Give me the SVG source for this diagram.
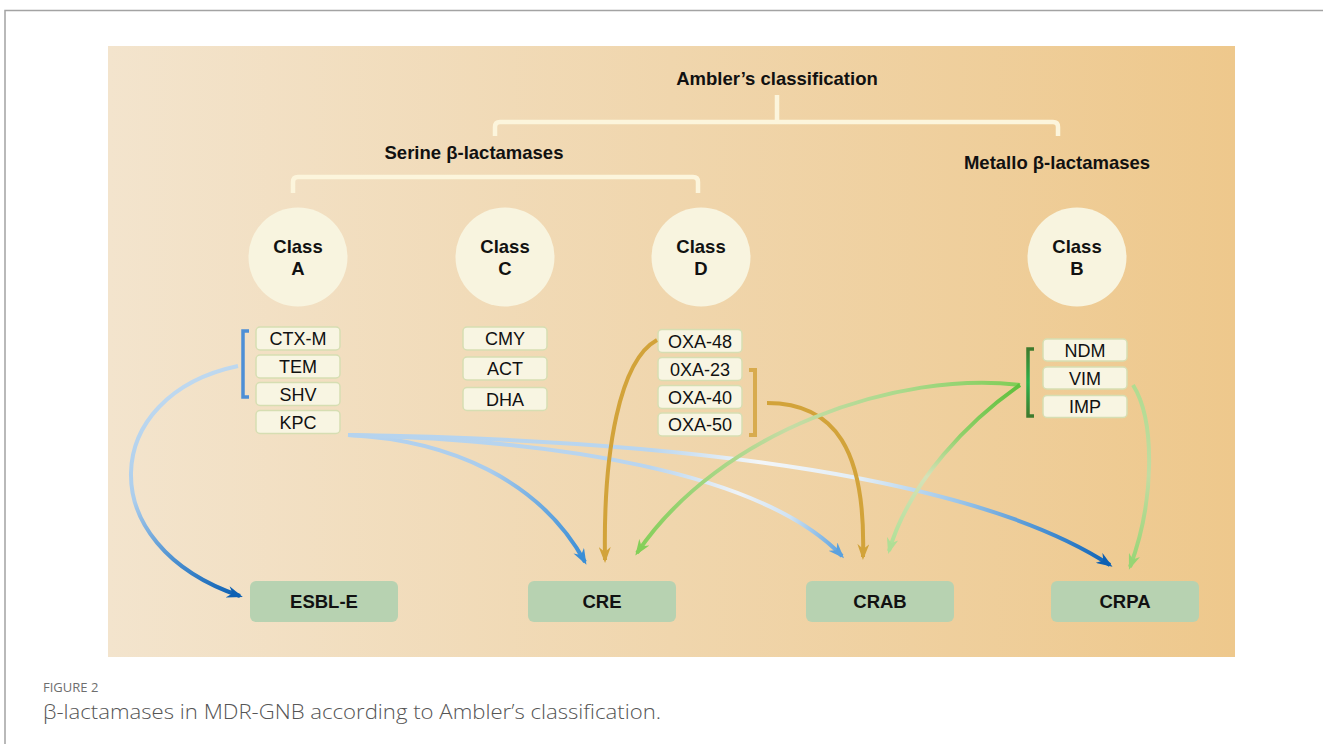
<svg xmlns="http://www.w3.org/2000/svg" width="1323" height="744" viewBox="0 0 1323 744">
<style>
.bold{font-family:"Liberation Sans",Arial,sans-serif;font-weight:bold;font-size:18.5px;fill:#111;text-anchor:middle}
.sm{fill:#f8f5e2;stroke:#d6deb2;stroke-width:1.5}
.smt{font-family:"Liberation Sans",Arial,sans-serif;font-size:18px;fill:#111;text-anchor:middle}
.circ{fill:#f8f4df}
.res{fill:#b7d2b1}
.brk{fill:none;stroke:#fcf5dc;stroke-width:4.5}
.con{fill:none;stroke-width:4}
.cap{font-family:"Open Sans","Liberation Sans",sans-serif}
</style>
<defs>
<linearGradient id="bg" x1="108" y1="0" x2="1235" y2="0" gradientUnits="userSpaceOnUse">
<stop offset="0" stop-color="#f3e4cd"/><stop offset="0.5" stop-color="#f0d6ad"/><stop offset="1" stop-color="#eec88c"/>
</linearGradient>
<linearGradient id="gbr" x1="0" y1="349" x2="0" y2="416" gradientUnits="userSpaceOnUse">
<stop offset="0" stop-color="#3d7a2d"/><stop offset="0.5" stop-color="#2db34b"/><stop offset="1" stop-color="#3d7a2d"/>
</linearGradient>
<linearGradient id="gEsbl" x1="140" y1="380" x2="240" y2="597" gradientUnits="userSpaceOnUse">
<stop offset="0" stop-color="#c3dbf0"/><stop offset="0.45" stop-color="#abcdec"/><stop offset="0.75" stop-color="#4a8fd0"/><stop offset="1" stop-color="#0b5fb2"/>
</linearGradient>
<linearGradient id="gCre" x1="348" y1="0" x2="585" y2="0" gradientUnits="userSpaceOnUse">
<stop offset="0" stop-color="#b7d4ef"/><stop offset="0.6" stop-color="#a9cced"/><stop offset="1" stop-color="#3a8ed6"/>
</linearGradient>
<linearGradient id="gCrab" x1="348" y1="0" x2="842" y2="0" gradientUnits="userSpaceOnUse">
<stop offset="0" stop-color="#b5d3ee"/><stop offset="0.61" stop-color="#b9d5ef"/><stop offset="0.79" stop-color="#eef3f7"/><stop offset="0.895" stop-color="#cfe2f3"/><stop offset="1" stop-color="#5ba1de"/>
</linearGradient>
<linearGradient id="gCrpa" x1="348" y1="0" x2="1110" y2="0" gradientUnits="userSpaceOnUse">
<stop offset="0" stop-color="#b5d3ee"/><stop offset="0.4" stop-color="#bad6ef"/><stop offset="0.54" stop-color="#f3f6f8"/><stop offset="0.67" stop-color="#e3eef7"/><stop offset="0.8" stop-color="#9cc6ea"/><stop offset="0.93" stop-color="#3c88cf"/><stop offset="1" stop-color="#0e62b5"/>
</linearGradient>
<linearGradient id="gGcre" x1="1020" y1="0" x2="637" y2="0" gradientUnits="userSpaceOnUse">
<stop offset="0" stop-color="#7fcd55"/><stop offset="0.3" stop-color="#a9d98a"/><stop offset="0.6" stop-color="#c5dca5"/><stop offset="0.85" stop-color="#9dd47a"/><stop offset="1" stop-color="#84cf58"/>
</linearGradient>
<linearGradient id="gGcrab" x1="0" y1="385" x2="0" y2="551" gradientUnits="userSpaceOnUse">
<stop offset="0" stop-color="#5fc03c"/><stop offset="0.3" stop-color="#8fd06a"/><stop offset="0.55" stop-color="#d5e2b8"/><stop offset="1" stop-color="#ade094"/>
</linearGradient>
<linearGradient id="gGcrpa" x1="0" y1="385" x2="0" y2="567" gradientUnits="userSpaceOnUse">
<stop offset="0" stop-color="#b0dc90"/><stop offset="0.5" stop-color="#c2dca2"/><stop offset="1" stop-color="#97d574"/>
</linearGradient>
<marker id="aDk" viewBox="0 0 16 12" refX="13" refY="6" markerWidth="16" markerHeight="12" markerUnits="userSpaceOnUse" orient="auto"><path d="M0,0 L16,6 L0,12 L5,6 Z" fill="#0d60b3"/></marker>
<marker id="aMd" viewBox="0 0 16 12" refX="13" refY="6" markerWidth="16" markerHeight="12" markerUnits="userSpaceOnUse" orient="auto"><path d="M0,0 L16,6 L0,12 L5,6 Z" fill="#3a8ed6"/></marker>
<marker id="aLt" viewBox="0 0 16 12" refX="13" refY="6" markerWidth="16" markerHeight="12" markerUnits="userSpaceOnUse" orient="auto"><path d="M0,0 L16,6 L0,12 L5,6 Z" fill="#5ba1de"/></marker>
<marker id="aGo" viewBox="0 0 16 12" refX="13" refY="6" markerWidth="16" markerHeight="12" markerUnits="userSpaceOnUse" orient="auto"><path d="M0,0 L16,6 L0,12 L5,6 Z" fill="#d2a33a"/></marker>
<marker id="aGr" viewBox="0 0 16 12" refX="13" refY="6" markerWidth="16" markerHeight="12" markerUnits="userSpaceOnUse" orient="auto"><path d="M0,0 L16,6 L0,12 L5,6 Z" fill="#84cf58"/></marker>
<marker id="aGl" viewBox="0 0 16 12" refX="13" refY="6" markerWidth="16" markerHeight="12" markerUnits="userSpaceOnUse" orient="auto"><path d="M0,0 L16,6 L0,12 L5,6 Z" fill="#b0de95"/></marker>
<marker id="aGm" viewBox="0 0 16 12" refX="13" refY="6" markerWidth="16" markerHeight="12" markerUnits="userSpaceOnUse" orient="auto"><path d="M0,0 L16,6 L0,12 L5,6 Z" fill="#97d574"/></marker>
</defs>
<rect width="1323" height="744" fill="#ffffff"/>
<path d="M5,744 V10.5 H1323" fill="none" stroke="#a3a3a3" stroke-width="1.5"/>
<rect x="108" y="46" width="1127" height="611" fill="url(#bg)"/>

<g id="title">
<text class="bold" x="777" y="85">Ambler’s classification</text>
<path class="brk" d="M777,95 V122 M495,136 V127 Q495,122 500,122 H1053 Q1058,122 1058,127 V136"/>
</g>
<g id="serine">
<text class="bold" x="474" y="159">Serine β-lactamases</text>
<path class="brk" d="M293,193 V182 Q293,177 298,177 H693 Q698,177 698,182 V193"/>
</g>
<g id="metallo"><text class="bold" x="1057" y="169">Metallo β-lactamases</text></g>

<g id="classA"><circle class="circ" cx="298" cy="257" r="49.5"/><text class="bold" x="298" y="253">Class</text><text class="bold" x="298" y="275">A</text></g>
<g id="classC"><circle class="circ" cx="505" cy="257" r="49.5"/><text class="bold" x="505" y="253">Class</text><text class="bold" x="505" y="275">C</text></g>
<g id="classD"><circle class="circ" cx="701" cy="257" r="49.5"/><text class="bold" x="701" y="253">Class</text><text class="bold" x="701" y="275">D</text></g>
<g id="classB"><circle class="circ" cx="1077" cy="257" r="49.5"/><text class="bold" x="1077" y="253">Class</text><text class="bold" x="1077" y="275">B</text></g>

<g id="groupA">
<path d="M249,331 H243 V397 H249" fill="none" stroke="#4d8fd6" stroke-width="3.5"/>
<rect class="sm" x="256" y="327" width="84" height="23" rx="4"/><text class="smt" x="298" y="345">CTX-M</text>
<rect class="sm" x="256" y="355" width="84" height="23" rx="4"/><text class="smt" x="298" y="373">TEM</text>
<rect class="sm" x="256" y="382.5" width="84" height="23" rx="4"/><text class="smt" x="298" y="400.5">SHV</text>
<rect class="sm" x="256" y="410.5" width="84" height="23" rx="4"/><text class="smt" x="298" y="428.5">KPC</text>
</g>
<g id="groupC">
<rect class="sm" x="463" y="327" width="84" height="23" rx="4"/><text class="smt" x="505" y="345">CMY</text>
<rect class="sm" x="463" y="357" width="84" height="23" rx="4"/><text class="smt" x="505" y="375">ACT</text>
<rect class="sm" x="463" y="387.5" width="84" height="23" rx="4"/><text class="smt" x="505" y="405.5">DHA</text>
</g>
<g id="groupD">
<path d="M749,370 H755 V435 H749" fill="none" stroke="#d8ab4e" stroke-width="4"/>
<rect class="sm" x="658" y="329.5" width="84" height="23" rx="4"/><text class="smt" x="700" y="347.5">OXA-48</text>
<rect class="sm" x="658" y="357.5" width="84" height="23" rx="4"/><text class="smt" x="700" y="375.5">0XA-23</text>
<rect class="sm" x="658" y="385.5" width="84" height="23" rx="4"/><text class="smt" x="700" y="403.5">OXA-40</text>
<rect class="sm" x="658" y="413" width="84" height="23" rx="4"/><text class="smt" x="700" y="431">OXA-50</text>
</g>
<g id="groupB">
<path d="M1034,349 H1028 V416 H1034" fill="none" stroke="url(#gbr)" stroke-width="3.5"/>
<rect class="sm" x="1043" y="339" width="84" height="22" rx="4"/><text class="smt" x="1085" y="356.5">NDM</text>
<rect class="sm" x="1043" y="367" width="84" height="22" rx="4"/><text class="smt" x="1085" y="384.5">VIM</text>
<rect class="sm" x="1043" y="395.5" width="84" height="22" rx="4"/><text class="smt" x="1085" y="413">IMP</text>
</g>

<g id="connectors">
<path class="con" d="M238,366 C100,395 90,545 240,596" stroke="url(#gEsbl)" marker-end="url(#aDk)"/>
<path class="con" d="M348,435 C450,440 540,480 585,562" stroke="url(#gCre)" marker-end="url(#aMd)"/>
<path class="con" d="M348,435 C550,440 760,470 842,556" stroke="url(#gCrab)" marker-end="url(#aLt)"/>
<path class="con" d="M348,435 C700,440 980,480 1110,565" stroke="url(#gCrpa)" marker-end="url(#aDk)"/>
<path class="con" d="M657,340 C620,360 603,450 605,560" stroke="#d2a33a" marker-end="url(#aGo)"/>
<path class="con" d="M767,403 C835,403 866,450 863,557" stroke="#d2a33a" marker-end="url(#aGo)"/>
<path class="con" stroke-width="3.5" d="M1020,385 C900,370 720,430 637,553" stroke="url(#gGcre)" marker-end="url(#aGr)"/>
<path class="con" stroke-width="3.5" d="M1020,385 C970,420 910,480 889,551" stroke="url(#gGcrab)" marker-end="url(#aGl)"/>
<path class="con" stroke-width="3.5" d="M1133,385 C1155,420 1155,500 1130,567" stroke="url(#gGcrpa)" marker-end="url(#aGm)"/>
</g>

<g id="esbl"><rect class="res" x="250" y="581" width="148" height="41" rx="6"/><text class="bold" x="324" y="608">ESBL-E</text></g>
<g id="cre"><rect class="res" x="528" y="581" width="148" height="41" rx="6"/><text class="bold" x="602" y="608">CRE</text></g>
<g id="crab"><rect class="res" x="806" y="581" width="148" height="41" rx="6"/><text class="bold" x="880" y="608">CRAB</text></g>
<g id="crpa"><rect class="res" x="1051" y="581" width="148" height="41" rx="6"/><text class="bold" x="1125" y="608">CRPA</text></g>

<g id="caption">
<text class="cap" x="43" y="692" font-size="13" fill="#6e6e6e">FIGURE 2</text>
<text class="cap" x="43" y="719" font-size="21" font-weight="300" fill="#555555" textLength="618" lengthAdjust="spacingAndGlyphs">β-lactamases in MDR-GNB according to Ambler’s classification.</text>
</g>
</svg>
